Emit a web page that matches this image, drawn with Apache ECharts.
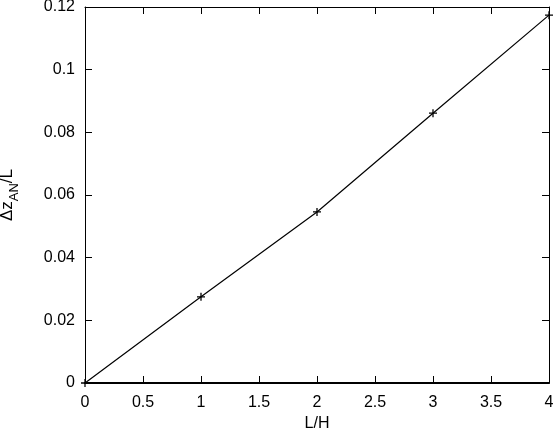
<!DOCTYPE html>
<html>
<head>
<meta charset="utf-8">
<script src="https://cdn.jsdelivr.net/npm/echarts@6/dist/echarts.min.js"></script>
<style>html,body{margin:0;padding:0;background:#fff;}#c{width:555px;height:434px;}</style>
</head>
<body>
<div id="c"></div>
<script>
var xValues = [0, 1, 2, 3, 4];
var yValues = [0, 0.0275, 0.0546, 0.0861, 0.1174];
var xTickInterval = 0.5;
var yTickInterval = 0.02;

var pts = xValues.map(function (x, i) { return [x, yValues[i]]; });
var font = 'Liberation Sans, Arial, sans-serif';
var plus = 'path://M4.2,0h1.6v10h-1.6zM0,4.2h10v1.6h-10z';

var chart = echarts.init(document.getElementById('c'), null, {renderer: 'canvas'});
function axisCommon(show, lw, margin) {
  return {
    axisLine: {show: true, onZero: false, lineStyle: {color: '#000', width: lw || 1}},
    axisTick: {show: true, inside: true, length: 7, lineStyle: {color: '#000', width: 1}},
    splitLine: {show: false},
    axisLabel: {show: show, color: '#000', fontSize: 16, fontFamily: font, margin: margin || 10}
  };
}
var option = {
  animation: false,
  backgroundColor: '#fff',
  grid: {left: 85, right: 6, top: 7, bottom: 51, containLabel: false, outerBoundsMode: 'none'},
  xAxis: [
    Object.assign({type: 'value', min: 0, max: 4, interval: xTickInterval, position: 'bottom',
      name: 'L/H', nameLocation: 'middle', nameGap: 33,
      nameTextStyle: {color: '#000', fontSize: 16, fontFamily: font}}, axisCommon(true, 2, 12)),
    Object.assign({type: 'value', min: 0, max: 4, interval: xTickInterval, position: 'top'}, axisCommon(false))
  ],
  yAxis: [
    Object.assign({type: 'value', min: 0, max: 0.12, interval: yTickInterval, position: 'left',
      name: '{a|Δz}{b|AN}{a|/L}', nameLocation: 'middle', nameGap: 69,
      nameTextStyle: {color: '#000', fontFamily: font,
        rich: {a: {fontSize: 17, fontFamily: font, color: '#000'},
               b: {fontSize: 13, fontFamily: font, color: '#000', verticalAlign: 'bottom', padding: [0, 0, -5, 0]}}}},
      axisCommon(true, 1, 10)),
    Object.assign({type: 'value', min: 0, max: 0.12, interval: yTickInterval, position: 'right'}, axisCommon(false))
  ],
  series: [{
    type: 'line',
    data: pts,
    xAxisIndex: 0, yAxisIndex: 0,
    lineStyle: {color: '#000', width: 1.2},
    itemStyle: {color: '#000'},
    symbol: plus,
    symbolSize: 8,
    showSymbol: true,
    clip: false
  }]
};
chart.setOption(option);
</script>
</body>
</html>
